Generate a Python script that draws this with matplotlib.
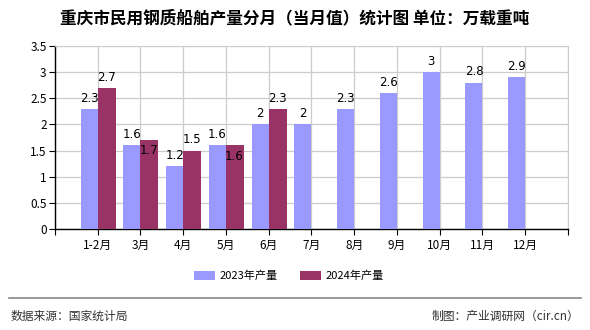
import numpy as np
import matplotlib.pyplot as plt
from matplotlib.ticker import FuncFormatter

plt.rcParams['font.family'] = ['Noto Sans CJK SC', 'DejaVu Sans']

months = ["1-2月", "3月", "4月", "5月", "6月", "7月", "8月", "9月", "10月", "11月", "12月"]
prod_2023 = [2.3, 1.6, 1.2, 1.6, 2, 2, 2.3, 2.6, 3, 2.8, 2.9]
prod_2024 = [2.7, 1.7, 1.5, 1.6, 2.3]

C23 = "#9999FF"
C24 = "#993366"

fig = plt.figure(figsize=(5.9, 3.3), dpi=100)
ax = fig.add_axes([0.0932, 0.3061, 0.8695, 0.5545])

x = np.arange(1, len(months) + 1)
w = 0.4
ax.bar(x - w / 2, prod_2023, w, color=C23, label="2023年产量", zorder=3)
x24 = x[:len(prod_2024)]
ax.bar(x24 + w / 2 + 0.01, prod_2024, w + 0.02, color=C24, label="2024年产量", zorder=3)

def fmt(v):
    return f"{v:g}"

for xi, v in zip(x, prod_2023):
    ax.text(xi - w / 2, v + 0.08, fmt(v), ha="center", va="bottom", fontsize=8.5,
            family="DejaVu Sans", zorder=4)
for i, (xi, v) in enumerate(zip(x24, prod_2024)):
    # label goes inside the bar when it would clash with the 2023 label
    if abs(v - prod_2023[i]) < 0.2:
        y, va = v - 0.08, "top"
    else:
        y, va = v + 0.08, "bottom"
    ax.text(xi + w / 2, y, fmt(v), ha="center", va=va, fontsize=8.5,
            family="DejaVu Sans", zorder=4)

ax.set_xlim(0, 12)
ax.set_ylim(0, 3.5)
ax.set_xticks(np.arange(0, 13))
ax.set_xticklabels([""] + months + [""], fontsize=8.5)
ax.set_yticks(np.arange(0, 3.51, 0.5))
ax.yaxis.set_major_formatter(FuncFormatter(lambda v, p: f"{v:g}"))
ax.tick_params(axis="y", labelsize=8.5, length=4, direction="out", pad=2)
ax.tick_params(axis="x", length=4, direction="out", pad=3)
ax.grid(True, color="#cccccc", linewidth=0.9, zorder=0)

for s in ["top", "right"]:
    ax.spines[s].set_color("#cccccc")
for s in ["left", "bottom"]:
    ax.spines[s].set_color("black")
    ax.spines[s].set_linewidth(1.0)

fig.text(0.5, 0.945, "重庆市民用钢质船舶产量分月（当月值）统计图 单位：万载重吨",
         ha="center", va="center", fontsize=12, fontweight="bold")

fig.legend(loc="center", bbox_to_anchor=(0.49, 1 - 276 / 330), ncol=2, frameon=False,
           fontsize=8, handlelength=1.9, handleheight=0.9, columnspacing=2.0,
           handletextpad=0.4)

fig.add_artist(plt.Line2D([0.015, 0.985], [1 - 298 / 330] * 2, color="#888888",
                          linewidth=1.2))
fig.text(0.018, 1 - 316 / 330, "数据来源：国家统计局", ha="left", va="center",
         fontsize=8.5, color="#333333")
fig.text(0.982, 1 - 316 / 330, "制图：产业调研网（cir.cn）", ha="right", va="center",
         fontsize=8.5, color="#333333")

fig.savefig("out.png", dpi=100)
